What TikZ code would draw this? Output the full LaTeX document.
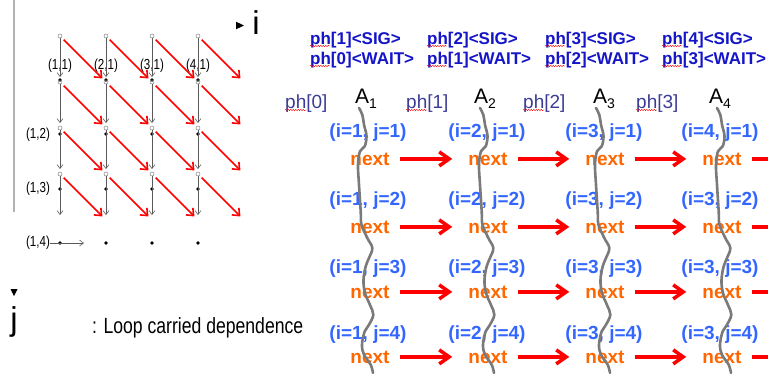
\documentclass[tikz,border=0pt]{standalone}
\usepackage{fontspec}
\setmainfont{Liberation Sans}
\newfontfamily\narrowfont[FakeStretch=0.8]{Liberation Sans}
\usepackage{xcolor}
\usetikzlibrary{positioning,arrows.meta,decorations.pathmorphing}

\definecolor{sigblue}{HTML}{1515C8}
\definecolor{phblue}{HTML}{3C3C96}
\definecolor{iterblue}{HTML}{3366FF}
\definecolor{nextorange}{HTML}{FF6600}
\definecolor{wavegray}{HTML}{7A7A7A}
\definecolor{axisgray}{HTML}{5A5A5A}

\begin{document}
\begin{tikzpicture}[x=1pt,y=-1pt,
  hole/.style={circle,draw=gray,line width=0.5pt,inner sep=0pt,minimum size=4pt},
  griddot/.style={circle,fill=black,inner sep=0pt,minimum size=3.6pt},
  ijlabel/.style={font=\narrowfont\fontsize{14.5}{14.5}\selectfont,inner sep=0pt},
  flow/.style={axisgray,line width=0.6pt,-{Straight Barb[length=4pt,width=6pt]}},
  dep/.style={red,line width=1.6pt,-{Straight Barb[length=6pt,width=10pt]},
    shorten <=3pt,shorten >=5pt},
  sig/.style={font=\bfseries\fontsize{17}{17}\selectfont,text=sigblue,
    anchor=base west,inner sep=0pt},
  phlab/.style={font=\fontsize{19}{19}\selectfont,text=phblue,anchor=base west,inner sep=0pt},
  alab/.style={font=\fontsize{21}{21}\selectfont,anchor=base west,inner sep=0pt},
  iter/.style={font=\bfseries\fontsize{19}{19}\selectfont,text=iterblue,anchor=base,inner sep=0pt},
  nextbox/.style={font=\bfseries\fontsize{19}{19}\selectfont,text=nextorange,anchor=base,inner sep=0pt},
  chain/.style={red,line width=3.5pt,shorten <=10pt,shorten >=16pt,
    -{Straight Barb[length=10pt,width=14pt]}},
  spell/.style={red,line width=0.4pt,decorate,
    decoration={snake,amplitude=0.7pt,segment length=2.5pt}},
  wave/.style={wavegray,line width=2.6pt,line cap=round}]
  \useasboundingbox (0,0) rectangle (780,373);

  % iteration space
  \draw[gray!60,line width=1.2pt] (14,0) -- (14,212);
  \foreach \c in {1,...,5}
    \foreach \r in {1,...,5}
      \coordinate (p-\c-\r) at ({60+46*(\c-1)},{36+46*(\r-1)});
  \foreach \c in {1,...,4}
    \foreach \r/\y in {1/80,2/134,3/189,4/243}
      \node[griddot] (d-\c-\r) at ({60+46*(\c-1)},\y) {};
  \foreach \c in {1,...,4}
    \foreach \r in {1,...,4}
      \node[hole] (o-\c-\r) at (p-\c-\r) {};
  \node[ijlabel] (l-1-1) at (60,66) {(1,1)};
  \node[ijlabel] (l-2-1) at (106,66) {(2,1)};
  \node[ijlabel] (l-3-1) at (152,66) {(3,1)};
  \node[ijlabel] (l-4-1) at (198,66) {(4,1)};
  \node[ijlabel] (l-1-2) at (38,135) {(1,2)};
  \node[ijlabel] (l-1-3) at (38,189) {(1,3)};
  \node[ijlabel] (l-1-4) at (38,243) {(1,4)};
  \foreach \c in {1,...,4}
    \foreach \r in {1,...,4}{
      \pgfmathtruncatemacro\cn{\c+1}
      \pgfmathtruncatemacro\rn{\r+1}
      \draw[flow,shorten >=5pt] (o-\c-\r) -- (p-\c-\rn);
      \draw[dep] (o-\c-\r) -- (p-\cn-\rn);
    }
  \coordinate (row4end) at (84,243);
  \draw[flow] (l-1-4) -- (row4end);

  % axes and legend
  \fill (236,21.7) -- (244,25.5) -- (236,29.3) -- cycle;
  \node[font=\fontsize{33}{33}\selectfont,anchor=base,inner sep=0pt] (i-axis) at (256,34) {i};
  \fill (10.5,289) -- (17.5,289) -- (14,296) -- cycle;
  \node[font=\fontsize{33}{33}\selectfont,anchor=base,inner sep=0pt] (j-axis) at (14,330) {j};
  \node[font=\narrowfont\fontsize{22}{22}\selectfont,anchor=base west,inner sep=0pt] (legend) at (92,333) {: Loop carried dependence};

  % phaser signals
  \foreach \c/\x in {1/310,2/427,3/545,4/662}{
    \pgfmathtruncatemacro\w{\c-1}
    \node[sig] (sig-\c) at (\x,44) {ph[\c]<SIG>};
    \node[sig] (wait-\c) at (\x,64) {ph[\w]<WAIT>};
    \draw[spell] ([yshift=-2pt]sig-\c.base west) -- ++(20,0);
    \draw[spell] ([yshift=-2pt]wait-\c.base west) -- ++(20,0);
  }
  \foreach \c/\x in {0/285,1/406,2/523,3/636}{
    \node[phlab] (ph-\c) at (\x,108) {ph[\c]};
    \draw[spell] ([yshift=-2pt]ph-\c.base west) -- ++(21,0);
  }
  \foreach \c/\x in {1/355,2/474,3/593,4/709}
    \node[alab] (a-\c) at (\x,103) {A\raisebox{-5pt}{\fontsize{14}{14}\selectfont\c}};

  % iterations
  \coordinate (xcut) at (768,0);
  \foreach \r/\y/\b in {1/137/165,2/205/233,3/273/298,4/339/363}{
    \foreach \c/\x in {1/368,2/487,3/604,4/720}{
      \pgfmathtruncatemacro\ii{ifthenelse(\c==4 && \r>1,3,\c)}
      \node[iter] (it-\c-\r) at (\x,\y) {(i=\ii, j=\r)};
    }
    \foreach \c/\x in {1/370,2/488,3/605,4/722}
      \node[nextbox] (n-\c-\r) at (\x,\b) {next};
    \foreach \c in {1,2,3}{
      \pgfmathtruncatemacro\cn{\c+1}
      \draw[chain] (n-\c-\r) -- (n-\cn-\r);
    }
    \draw[red,line width=3.5pt,shorten <=10pt] (n-4-\r) -- (n-4-\r -| xcut);
  }

  % activity boundaries
  \foreach \x in {359,480,596,717}
    \draw[wave,shift={(\x,108)}] plot[smooth,tension=0.6] coordinates {
      (0,0) (3.3,6.7) (5,16.7) (7.5,28) (5.7,38.3) (1,43.3) (-1,56.7) (0,76.7)
      (1.7,103.3) (2.5,116.7) (8.3,130) (13.3,140) (10,150) (6.7,158.3) (4.5,172)
      (6,185) (11,197) (14.3,206.7) (10,216.7) (5.7,223.3) (3,236.7) (5,246.7)
      (11.7,256.7) (14,265)};
\end{tikzpicture}
\end{document}
